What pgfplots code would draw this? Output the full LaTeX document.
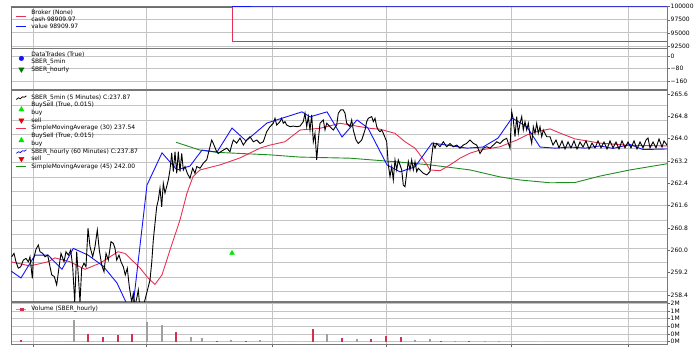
\documentclass[border=0pt]{standalone}
\usepackage{fontspec}
\setmainfont{DejaVu Sans}
\usepackage{pgfplots}
\pgfplotsset{compat=1.18}
\definecolor{smared}{RGB}{232,48,84}
\definecolor{hblue}{RGB}{20,20,250}
\definecolor{smagreen}{RGB}{30,140,30}
\definecolor{buygreen}{RGB}{0,230,0}
\definecolor{sellred}{RGB}{235,0,0}
\definecolor{tradegreen}{RGB}{0,120,0}
\definecolor{volgray}{RGB}{160,160,160}
\definecolor{volred}{RGB}{215,45,85}
\definecolor{volpale}{RGB}{240,185,200}
\definecolor{gridc}{RGB}{196,196,196}
\definecolor{framec}{RGB}{120,120,120}
\newcommand{\ls}{\rule[-1.4pt]{0pt}{6pt}}
\newcommand{\lgw}{\path (0pt,0pt) (10pt,0pt);}
\newcommand{\lgline}[2]{\lgw\draw[#1,line width=0.9pt,overlay] (0pt,#2) -- (10pt,#2);}
\newcommand{\lgup}[2]{\lgw\begin{scope}[shift={(5pt,#2)}]\fill[#1,overlay] (-2.6pt,-1.9pt) -- (2.6pt,-1.9pt) -- (0pt,2.6pt) -- cycle;\end{scope}}
\newcommand{\lgdown}[2]{\lgw\begin{scope}[shift={(5pt,#2)}]\fill[#1,overlay] (-2.6pt,1.9pt) -- (2.6pt,1.9pt) -- (0pt,-2.6pt) -- cycle;\end{scope}}
\newcommand{\lgcirc}[2]{\lgw\fill[#1,overlay] (5pt,#2) circle (2.3pt);}
\newcommand{\lgzig}[2]{\lgw\begin{scope}[shift={(0pt,#2)}]\draw[#1,line width=0.8pt,overlay] (0pt,-1.8pt) -- (2pt,-0.2pt) -- (4pt,-1pt) -- (6pt,0.8pt) -- (8pt,0.4pt) -- (10pt,1.8pt);\end{scope}}
\newcommand{\lgvol}[1]{\lgw\begin{scope}[shift={(0pt,#1)}]\draw[volgray,line width=0.8pt,overlay] (0pt,0pt) -- (10pt,0pt);\fill[volred,overlay] (3.5pt,-1.3pt) rectangle (6.5pt,1.3pt);\end{scope}}
\pgfplotsset{
  btpanel/.style={
    scale only axis, width=656pt, xmin=0, xmax=656,
    axis line style={framec, line width=0.9pt},
    xtick={22.3,135.7,261.5,375,500.5,617.3},
    xticklabels={},
    scaled y ticks=false,
    xmajorgrids=true, ymajorgrids=false,
    major grid style={gridc, line width=0.9pt},
    ytick pos=right, yticklabel pos=right, xtick pos=bottom,
    tick align=outside,
    major tick length=2.5pt,
    tick style={black!60, line width=0.5pt},
    ticklabel style={font=\fontsize{6}{7}\selectfont},
    yticklabel style={inner sep=1pt},
    legend style={draw=none, fill=none, at={(0,1)}, anchor=north west, inner sep=0pt,
      font=\fontsize{6}{7}\selectfont, column sep=4.7pt, nodes={inner sep=0pt}},
    legend cell align=left,
  },
  gridlayer/.style={
    btpanel, yticklabels={}, tick align=inside, major tick length=656pt,
    ytick style={gridc, line width=0.9pt}, xtick style={draw=none},
  },
}
\begin{document}
\begin{tikzpicture}
\useasboundingbox (0pt,0pt) rectangle (700pt,-352pt);
% ---------------- grid layers
\begin{axis}[gridlayer, at={(11pt,-6pt)}, anchor=north west, height=42pt,
  ymin=92118, ymax=100134, ytick={92500,95000,97500}]
\end{axis}
\begin{axis}[gridlayer, at={(11pt,-48.5pt)}, anchor=north west, height=41pt,
  ymin=-211.8, ymax=47.4, ytick={-160,-80,0}]
\end{axis}
\begin{axis}[gridlayer, at={(11pt,-90pt)}, anchor=north west, height=211.5pt,
  ymin=258.167, ymax=265.743,
  ytick={258.52,259.03,259.55,260.06,260.57,261.08,261.60,262.11,262.62,263.13,263.64,264.16,264.67,265.18}]
\end{axis}
\begin{axis}[gridlayer, at={(11pt,-302pt)}, anchor=north west, height=42pt,
  ymin=-0.12, ymax=2.068, ytick={0,0.4,0.8,1.2,1.6,2.0}]
\end{axis}
% ---------------- Broker
\begin{axis}[btpanel, at={(11pt,-6pt)}, anchor=north west, height=42pt,
  ymin=92118, ymax=100134, ytick={92500,95000,97500,100000},
  yticklabels={92500,95000,97500,100000}, xtick style={draw=none}, xmajorgrids=false,
  legend style={xshift=5pt, yshift=-3.4pt, row sep=1pt}]
\addplot[smared, line width=0.9pt, forget plot] coordinates {(0,99950) (221,99950) (221,93321) (656,93321)};
\addplot[hblue, line width=0.9pt, forget plot] coordinates {(221,100000) (400,99995) (656,99990)};
\addlegendimage{legend image code/.code={\lgline{smared}{-3.5pt}}}
\addlegendentry{\ls Broker (None)}
\addlegendimage{empty legend}
\addlegendentry{\ls cash 98909.97}
\addlegendimage{legend image code/.code={\lgline{hblue}{0pt}}}
\addlegendentry{\ls value 98909.97}
\end{axis}
% ---------------- DataTrades
\begin{axis}[btpanel, at={(11pt,-48.5pt)}, anchor=north west, height=41pt,
  ymin=-211.8, ymax=47.4, ytick={-160,-80,0}, yticklabels={−160,−80,0},
  xtick style={draw=none}, xmajorgrids=false,
  legend style={xshift=5pt, yshift=-2.9pt, row sep=1.5pt}]
\addlegendimage{legend image code/.code={\lgcirc{hblue}{-3.75pt}}}
\addlegendentry{\ls DataTrades (True)}
\addlegendimage{empty legend}
\addlegendentry{\ls SBER\_5min}
\addlegendimage{legend image code/.code={\lgdown{tradegreen}{0pt}}}
\addlegendentry{\ls SBER\_hourly}
\end{axis}
% ---------------- Main price panel
\begin{axis}[btpanel, at={(11pt,-90pt)}, anchor=north west, height=211.5pt,
  ymin=258.167, ymax=265.743,
  ytick={258.4,259.2,260.0,260.8,261.6,262.4,263.2,264.0,264.8,265.6},
  yticklabels={258.4,259.2,260.0,260.8,261.6,262.4,263.2,264.0,264.8,265.6},
  xtick style={draw=none}, xmajorgrids=false,
  legend style={xshift=5pt, yshift=-4.4pt, row sep=1.6pt}]
% SMA 45 (hourly)
\addplot[smagreen, line width=0.9pt, forget plot] coordinates {
(165,263.87)(189,263.59)(206,263.51)(229,263.47)(259,263.42)(289,263.34)(339,263.30)(389,263.16)(419,263.06)(459,262.88)(489,262.63)(509,262.52)(539,262.42)(564,262.43)(589,262.66)(619,262.88)(656,263.10)};
% SMA 30 (5 min)
\addplot[smared, line width=0.9pt, forget plot] coordinates {
(0,259.59)(19,259.44)(37,259.59)(44,259.73)(59,259.59)(74,259.32)(89,259.54)(107,259.95)(114,259.89)(129,259.37)(137,259.01)(144,258.78)(151,259.12)(159,260.01)(169,261.09)(176,262.05)(182,262.64)(189,262.88)(209,263.06)(229,263.31)(249,263.66)(259,263.77)(274,263.89)(289,264.31)(309,264.37)(329,264.55)(339,264.49)(359,264.37)(369,264.34)(384,264.19)(394,263.89)(404,263.66)(409,263.42)(416,263.06)(419,262.88)(429,262.85)(439,263.06)(449,263.30)(459,263.48)(469,263.59)(489,263.71)(505.7,263.95)(515.7,264.13)(525.7,264.25)(539,264.35)(549,264.20)(564,263.99)(589,263.84)(619,263.76)(656,263.74)};
% SBER hourly close
\addplot[hblue, line width=0.9pt, forget plot] coordinates {
(0,259.26)(10,259.01)(24,259.83)(37,259.83)(51,259.32)(62.3,260.07)(77,259.83)(92,259.44)(106,258.83)(121,257.68)(136,262.34)(151,263.49)(166,262.88)(179,263.02)(191,263.59)(206,263.52)(221,264.38)(235,263.92)(256,264.56)(291,264.96)(299,264.78)(316,264.96)(331,264.06)(346,264.67)(357,264.38)(376,263.06)(389,262.81)(404,262.99)(421,263.84)(436,263.77)(456,263.66)(472,263.70)(487,264.02)(501,264.74)(516,264.42)(529,263.70)(544,263.66)(559,263.70)(574,263.66)(589,263.74)(602,263.65)(619,263.79)(632,263.61)(656,263.63)};
% SBER 5 min close
\addplot[black, line width=0.9pt, forget plot] coordinates {
(0.7,259.77)(3,259.89)(5,259.59)(7.3,259.36)(9.7,259.41)(12.3,259.65)(15,259.71)(17.3,259.59)(19,259.77)(21.3,259.00)(22.3,259.65)(25,260.04)(27.3,260.19)(29,259.95)(31.7,259.89)(34,259.77)(36.7,259.83)(38.3,259.54)(40.7,259.12)(43.3,259.06)(45.7,258.76)(48.3,259.47)(50,259.89)(53,259.59)(55,259.95)(57.3,259.83)(59.7,260.01)(61.7,259.41)(63.7,258.15)(65.7,259.95)(67.7,258.88)(69,258.15)(70.7,259.36)(73,259.54)(75,259.41)(77,260.79)(79,260.13)(81.7,259.77)(84,260.13)(86.3,260.73)(88.3,260.01)(90.7,259.47)(93,259.23)(95,259.89)(97.3,259.65)(100,260.31)(102.3,260.25)(104,260.07)(105.7,259.65)(108,259.83)(110,259.59)(112.3,259.41)(114.3,259.12)(116.3,259.36)(118.3,258.70)(120.7,258.15)(122.3,258.46)(124,258.0)(125.7,258.28)(127.3,258.58)(129,257.9)(132,257.95)(135.7,258.47)(139,258.94)(140.7,259.55)(142.3,260.37)(145.7,261.56)(147.3,261.80)(149,262.23)(150.7,261.56)(152.3,262.40)(154,262.05)(157.3,262.52)(159,262.88)(160.7,263.49)(162.3,262.82)(164,263.53)(165.7,262.76)(167.3,263.53)(169,262.82)(170.7,263.47)(172.3,262.88)(174,263.00)(176.3,262.76)(179,262.58)(181.7,262.94)(184,262.76)(185.7,263.00)(189,262.94)(192.3,263.12)(195.7,263.24)(199,263.71)(200.7,263.95)(202.3,263.83)(205.7,263.53)(207.3,263.47)(209.7,263.53)(212.3,263.59)(215.7,263.66)(219,263.53)(220.7,263.77)(222.3,263.95)(225.7,263.84)(229,264.02)(232.3,263.77)(235.7,263.95)
(239,264.07)(242.3,263.89)(245.7,263.95)(249,263.83)(252.3,263.89)(255.7,264.25)(259,264.43)(262.3,264.55)(264,264.73)(265.7,264.49)(269,264.61)(270.7,264.73)(272.3,264.55)(274,264.61)(275.7,264.49)(279,264.43)(282.3,264.45)(285.7,264.43)(289,264.45)(292.3,264.61)(294,264.91)(295.7,264.43)(297.3,264.79)(299,264.31)(300.7,264.85)(302.3,263.89)(304,264.19)(305.7,263.24)(307.3,263.95)(309,264.55)(312.3,264.67)(314,264.31)(315.7,264.55)(319,264.43)(322.3,264.31)(325.7,264.49)(327.3,264.91)(329.7,265.03)(332.3,265.03)(334,264.91)(335.7,264.55)(339,264.43)(340.7,264.67)(342.3,264.31)(345,263.95)(347.3,263.83)(350.7,263.95)(354,264.31)(355.7,264.61)(357.3,264.73)(360.7,264.79)(362.3,264.61)(364,264.73)(365.7,264.43)(367.3,264.31)(369,264.25)(370.7,264.31)(372.3,264.19)(375.7,263.89)(377.3,263.06)(379,262.64)(380.7,263.00)(382.3,262.52)(384,263.24)(385.7,262.88)(387.3,263.24)(390.7,262.88)(392.3,262.34)(394,262.28)(395.7,262.76)(397.3,263.18)(399,262.88)(400.7,263.24)(402.3,262.88)(404,263.18)(405.7,262.82)(407.3,262.94)(409,262.88)(412.3,262.76)(415.7,262.70)(419,262.82)(420.7,263.35)(422.3,263.83)(424,263.66)(425.7,263.83)(429,263.71)(432.3,263.89)(435.7,263.71)(439,263.83)(442.3,263.71)(445.7,263.77)(449,263.66)(452.3,263.77)(455.7,263.83)(459,263.95)(462.3,263.83)(465.7,263.77)(469,263.47)(472.3,263.66)(475.7,263.71)(479,263.66)(482.3,263.77)(485.7,263.89)(489,263.83)(492.3,263.95)(495.7,264.01)(499,263.66)(500.7,264.97)(502.3,264.67)(504,264.07)(505.7,264.79)(507.3,264.19)(509,264.55)(510.7,264.79)(512.3,264.31)(514,264.61)(515.7,264.31)(517.3,264.55)(519,264.13)(520.7,263.83)(522.3,264.43)(524,264.19)(525.7,264.55)(527.3,264.19)(529,264.43)(530.7,264.07)(532.3,264.31)(535.7,264.07)(539,264.07)
(542,263.77)(545,263.95)(548,263.67)(551,263.92)(554,263.63)(557,263.88)(560,263.67)(563,263.92)(566,263.63)(569,263.88)(572,263.70)(575,263.92)(578,263.63)(581,263.84)(584,263.67)(587,263.92)(590,263.67)(593,263.88)(596,263.63)(599,263.92)(602,263.67)(605,263.88)(608,263.63)(611,263.92)(614,263.67)(617,263.88)(620,263.67)(623,263.92)(626,263.63)(629,263.88)(632,263.67)(635,263.95)(637,264.02)(639,263.67)(642,263.88)(645,263.67)(648,263.99)(651,263.70)(653,263.92)(656,263.77)};
% buy signal
\addplot[only marks, mark=triangle*, mark size=2.8pt, mark options={fill=buygreen, draw=buygreen}, forget plot] coordinates {(221,259.90)};
\addlegendimage{legend image code/.code={\lgzig{black}{0pt}}}
\addlegendentry{\ls SBER\_5min (5 Minutes) C:237.87}
\addlegendimage{legend image code/.code={\lgup{buygreen}{-3.8pt}}}
\addlegendentry{\ls BuySell (True, 0.015)}
\addlegendimage{empty legend}
\addlegendentry{\ls buy}
\addlegendimage{legend image code/.code={\lgdown{sellred}{0pt}}}
\addlegendentry{\ls sell}
\addlegendimage{legend image code/.code={\lgline{smared}{0pt}}}
\addlegendentry{\ls SimpleMovingAverage (30) 237.54}
\addlegendimage{legend image code/.code={\lgup{buygreen}{-3.8pt}}}
\addlegendentry{\ls BuySell (True, 0.015)}
\addlegendimage{empty legend}
\addlegendentry{\ls buy}
\addlegendimage{legend image code/.code={\lgzig{hblue}{0pt}}}
\addlegendentry{\ls SBER\_hourly (60 Minutes) C:237.87}
\addlegendimage{legend image code/.code={\lgdown{sellred}{0pt}}}
\addlegendentry{\ls sell}
\addlegendimage{legend image code/.code={\lgline{smagreen}{0pt}}}
\addlegendentry{\ls SimpleMovingAverage (45) 242.00}
\end{axis}
% ---------------- Volume
\begin{axis}[btpanel, at={(11pt,-302pt)}, anchor=north west, height=42pt,
  ymin=-0.12, ymax=2.068, ytick={0,0.4,0.8,1.2,1.6,2.0},
  yticklabels={0M,0M,0M,1M,1M,2M}, xmajorgrids=false,
  legend style={xshift=5pt, yshift=-4.1pt}]
\addplot[ycomb, volgray, line width=1.2pt, forget plot] coordinates {
(63,1.13)(136,1.01)(151,0.87)(180,0.23)(191,0.19)(220,0.09)(249,0.09)(316,0.38)(346,0.14)(404,0.09)(419,0.16)(444,0.03)(474,0.04)(488,0.04)};
\addplot[ycomb, volred, line width=1.2pt, forget plot] coordinates {
(10,0.09)(77,0.38)(92,0.23)(107,0.35)(121,0.38)(165,0.49)(206,0.05)(235,0.05)(302,0.64)(331,0.21)(360,0.14)(375,0.31)(390,0.24)(430,0.05)(458,0.05)};
\addplot[ycomb, volpale, line width=1.2pt, forget plot] coordinates {
(37,0.03)(52,0.05)(276,0.03)(291,0.05)(530,0.05)};
\addlegendimage{legend image code/.code={\lgvol{0pt}}}
\addlegendentry{\ls Volume (SBER\_hourly)}
\end{axis}
\end{tikzpicture}
\end{document}
